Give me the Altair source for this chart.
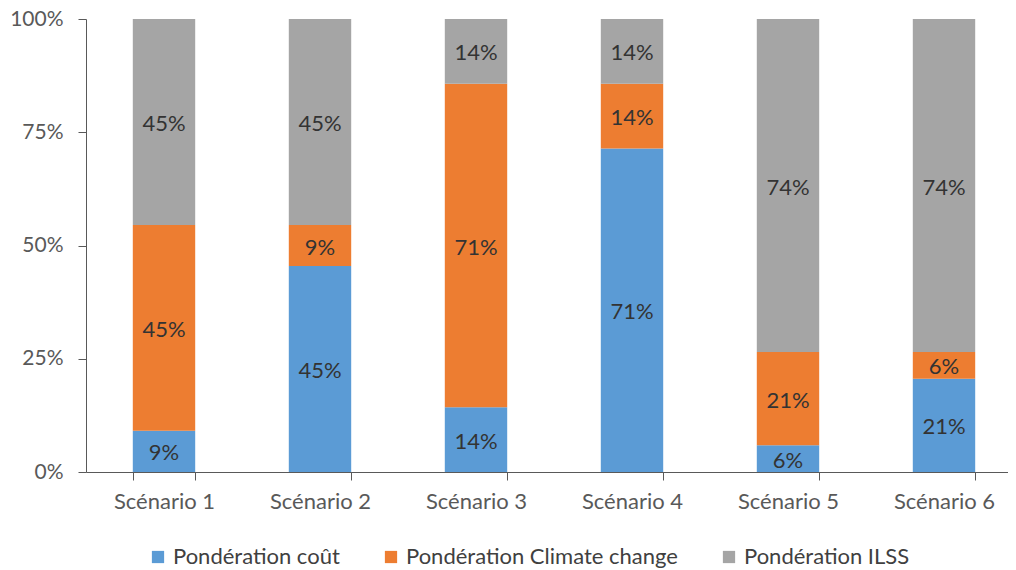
import altair as alt
import pandas as pd

scenarios = ["Scénario 1", "Scénario 2", "Scénario 3", "Scénario 4", "Scénario 5", "Scénario 6"]
series = ["Pondération coût", "Pondération Climate change", "Pondération ILSS"]
colors = ["#5B9BD5", "#ED7D31", "#A5A5A5"]

cout = [9.09, 45.45, 14.29, 71.43, 5.88, 20.59]
climate = [45.45, 9.09, 71.43, 14.29, 20.59, 5.88]
ilss = [45.45, 45.45, 14.29, 14.29, 73.53, 73.53]

rows = []
for i, sc in enumerate(scenarios):
    for k, (name, vals) in enumerate(zip(series, [cout, climate, ilss])):
        rows.append({"scenario": sc, "serie": name, "value": vals[i], "order": k})
df = pd.DataFrame(rows)

FONT = "Lato"

base = alt.Chart(df).transform_stack(
    stack="value",
    groupby=["scenario"],
    as_=["y0", "y1"],
    sort=[alt.SortField("order", order="ascending")],
    offset="normalize",
).transform_calculate(
    mid="(datum.y0 + datum.y1) / 2",
    frac="datum.y1 - datum.y0",
)

x_enc = alt.X(
    "scenario:N",
    sort=scenarios,
    title=None,
    scale=alt.Scale(range=[0, 936], paddingInner=0.6, paddingOuter=0.3),
    axis=alt.Axis(
        tickBand="extent",
        labelAngle=0,
        labelFont=FONT,
        labelFontSize=22,
        labelColor="#595959",
        labelPadding=11,
        tickSize=8,
        tickColor="#595959",
        domainColor="#595959",
        grid=False,
    ),
)

bars = base.mark_bar().encode(
    x=x_enc,
    y=alt.Y(
        "y0:Q",
        title=None,
        scale=alt.Scale(domain=[0, 1]),
        axis=alt.Axis(
            format=".0%",
            values=[0, 0.25, 0.5, 0.75, 1],
            grid=False,
            tickSize=8,
            tickColor="#595959",
            domainColor="#595959",
            labelFont=FONT,
            labelFontSize=21,
            labelColor="#595959",
            labelPadding=15,
        ),
    ),
    y2="y1:Q",
    color=alt.Color(
        "serie:N",
        scale=alt.Scale(domain=series, range=colors),
        legend=alt.Legend(
            title=None,
            orient="none",
            direction="horizontal",
            legendX=61,
            legendY=527,
            symbolType="square",
            symbolSize=150,
            symbolStrokeWidth=0,
            symbolOpacity=1,
            labelFont=FONT,
            labelFontSize=22,
            labelColor="#404040",
            labelOffset=4,
            labelLimit=0,
            columnPadding=40,
        ),
    ),
)

labels = base.mark_text(font=FONT, fontSize=22, color="#333333", baseline="middle", dy=2).encode(
    x=alt.X("scenario:N", sort=scenarios),
    y=alt.Y("mid:Q"),
    text=alt.Text("frac:Q", format=".0%"),
)

chart = alt.layer(bars, labels).properties(
    width=922,
    height=453,
    autosize=alt.AutoSizeParams(type="none"),
    padding={"left": 78, "top": 11, "right": 0, "bottom": 96},
).configure_view(stroke=None)

chart.save("out.html", embed_options={"renderer": "svg", "actions": False})
